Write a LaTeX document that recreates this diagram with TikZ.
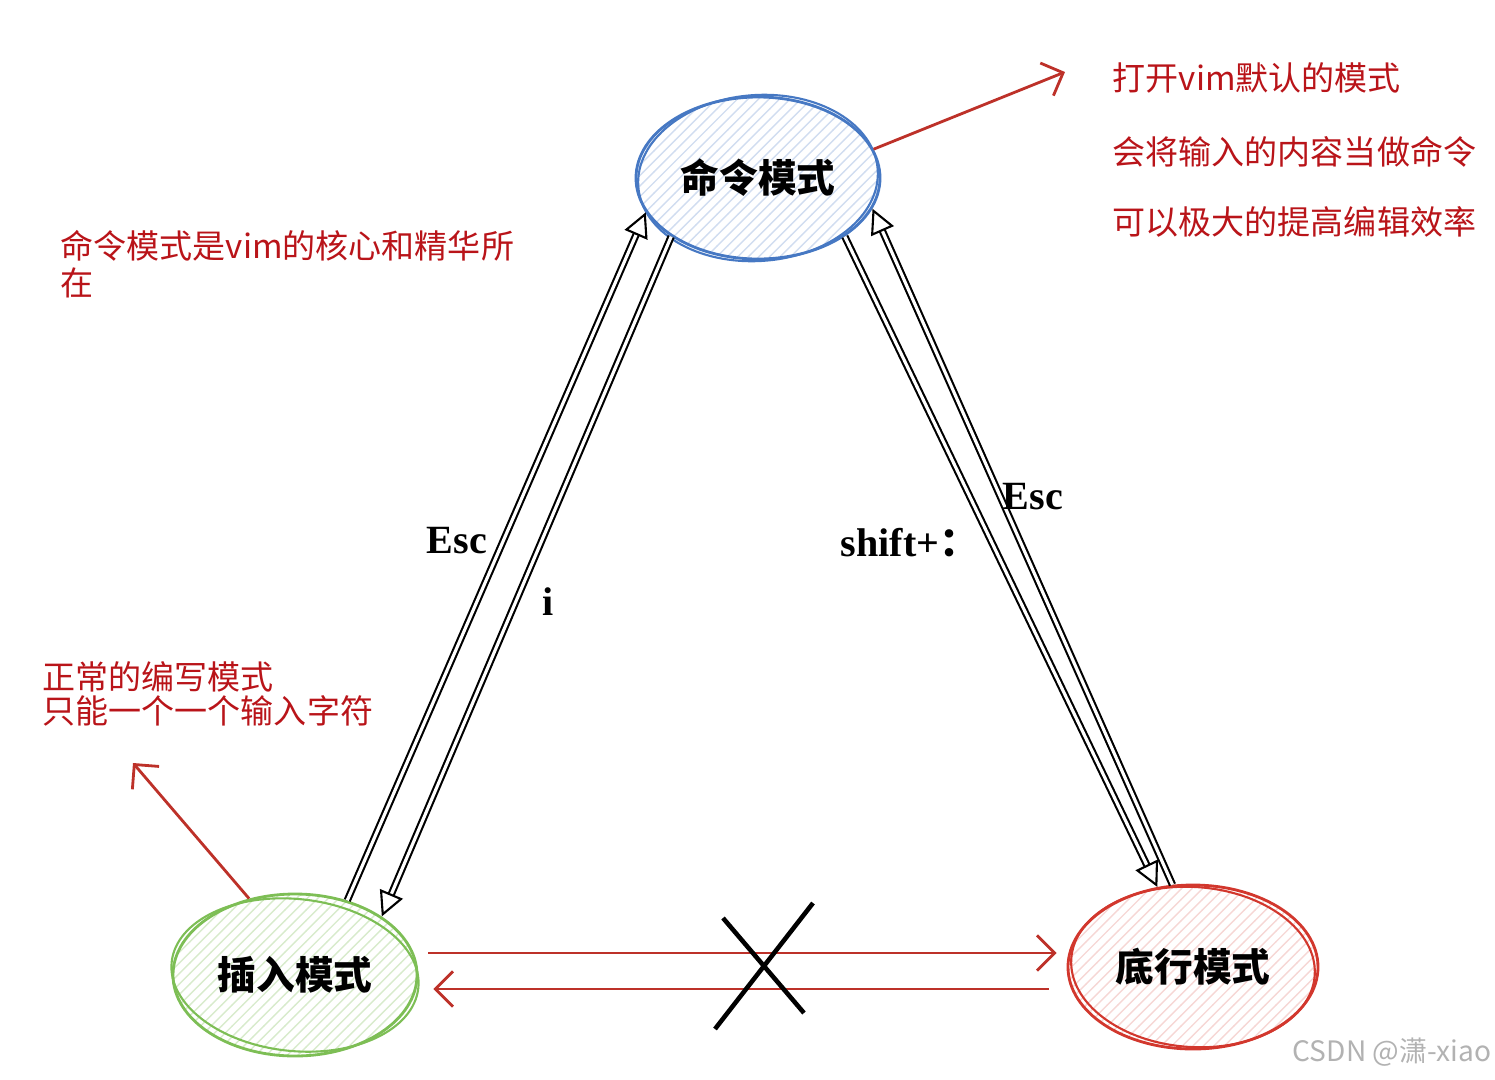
\documentclass[tikz,border=0pt]{standalone}
\usepackage{fontspec}
\setmainfont{Liberation Serif}
\newfontfamily\cjk{Noto Sans CJK SC}
\usetikzlibrary{arrows.meta,shapes.geometric,patterns}
\definecolor{bluec}{RGB}{70,120,195}
\definecolor{greenc}{RGB}{125,190,85}
\definecolor{redc}{RGB}{210,55,45}
\definecolor{notec}{RGB}{185,20,25}

\begin{document}
\begin{tikzpicture}
	 \tikzstyle{mode}=[ellipse,draw,line width=0.8pt,minimum width=2.44cm,minimum height=1.62cm,inner sep=0pt,font=\cjk\bfseries\fontsize{11}{13}\selectfont]
	 \tikzstyle{trans}=[draw,double,double distance=0.9pt,line width=0.6pt,-{Triangle[open,length=7pt,width=7pt]}]
	 \tikzstyle{key}=[font=\bfseries\fontsize{11.4}{13}\selectfont,inner sep=0pt]
	 \tikzstyle{note}=[text=notec,font=\cjk\fontsize{9.4}{10.3}\selectfont,align=left,inner sep=0pt]
	 \tikzstyle{redarrow}=[draw,redc!90!black,line width=0.8pt,-{Straight Barb[length=5pt,width=10pt]}]
	 \useasboundingbox (0,0) rectangle (14.95,-10.79);

	 % the three modes
	 \node[mode,bluec,pattern=north east lines,pattern color=bluec!25,text=black] (cmd) at (7.58,-1.78) {命令模式};
	 \node[mode,greenc,pattern=north east lines,pattern color=greenc!30,text=black] (ins) at (2.95,-9.75) {插入模式};
	 \node[mode,redc,pattern=north east lines,pattern color=redc!20,minimum width=2.5cm,minimum height=1.64cm,text=black] (bot) at (11.93,-9.67) {底行模式};
	 \draw[bluec,line width=0.6pt,rotate around={4:(cmd.center)}] (cmd.center) ellipse (1.2 and 0.83);
	 \draw[greenc,line width=0.6pt,rotate around={-6:(ins.center)}] (ins.center) ellipse (1.24 and 0.76);
	 \draw[redc,line width=0.6pt,rotate around={-4:(bot.center)}] (bot.center) ellipse (1.22 and 0.8);

	 % switching between modes
	 \draw[trans] (ins.55) -- (cmd.197);
	 \draw[trans] (cmd.214) -- (ins.34);
	 \draw[trans] (cmd.326) -- (bot.114);
	 \draw[trans] (bot.104) -- (cmd.345);
	 \node[key] (k1) at (4.57,-5.41) {Esc};
	 \node[key] (k2) at (5.48,-6.02) {i};
	 \node[key] (k3) at (9.10,-5.43) {shift+{\cjk\bfseries ：}};
	 \node[key] (k4) at (10.33,-4.97) {Esc};

	 % no direct way between insert and last line mode
	 \draw[redarrow,shorten <=1mm,shorten >=1mm] ([yshift=2.2mm]ins.east) -- ([yshift=2.2mm]ins.east -| bot.west);
	 \draw[redarrow,shorten <=1.8mm,shorten >=1.5mm] ([yshift=-2.2mm]bot.west) -- ([yshift=-2.2mm]bot.west -| ins.east);
	 \draw[line width=1.3pt] (7.23,-9.18) -- (8.04,-10.13);
	 \draw[line width=1.3pt] (8.13,-9.03) -- (7.15,-10.29);

	 % notes
	 \coordinate (n0) at (10.65,-0.72);
	 \coordinate (n1) at (1.33,-7.63);
	 \draw[redarrow] (cmd.14) -- (n0);
	 \draw[redarrow] (ins.121) -- (n1);
	 \node[note,anchor=west] (t0) at (11.12,-0.78) {打开vim默认的模式};
	 \node[note,anchor=west] (t1) at (11.12,-1.52) {会将输入的内容当做命令};
	 \node[note,anchor=west] (t2) at (11.12,-2.22) {可以极大的提高编辑效率};
	 \node[note,anchor=north west] (t3) at (0.60,-2.30) {命令模式是vim的核心和精华所\\在};
	 \node[note,anchor=north west,font=\cjk\fontsize{9.4}{9.6}\selectfont] (t4) at (0.42,-6.61) {正常的编写模式\\只能一个一个输入字符};
	 \node[text=black!30,font=\cjk\fontsize{8}{9}\selectfont] (wm) at (13.92,-10.52) {CSDN @潇-xiao};
 \end{tikzpicture}
\end{document}
